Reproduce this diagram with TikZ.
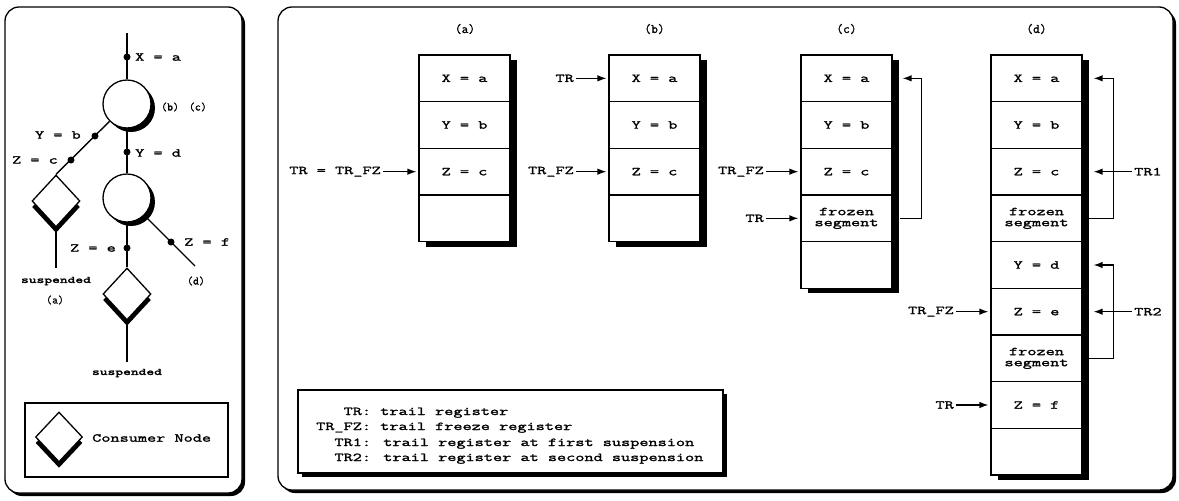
\documentclass[tikz,border=0pt]{standalone}
\usepackage{fontspec}
\newfontfamily\mono[FakeStretch=1.48,FakeBold=1.8]{Latin Modern Mono}
\newfontfamily\monon[FakeBold=1.2]{Latin Modern Mono}
\usetikzlibrary{arrows.meta,shapes.geometric,shadows}
\begin{document}
\begin{tikzpicture}[x=1pt,y=-1pt,
  every node/.style={font=\mono\fontsize{12}{13}\selectfont},
  small/.style={font=\monon\fontsize{11.5}{12}\selectfont, inner sep=1pt},
  head/.style={font=\monon\fontsize{13}{14}\selectfont, inner sep=1pt},
  med/.style={font=\mono\fontsize{10}{11}\selectfont, inner sep=1pt},
  tlbl/.style={inner sep=1pt},
  panel/.style={draw, line width=1.3pt, rounded corners=14pt,
    drop shadow={shadow xshift=3pt, shadow yshift=-3pt, fill=black, opacity=1}},
  cell/.style={draw, line width=1.1pt, fill=white, minimum width=91pt,
    minimum height=46.67pt, inner sep=0pt, align=center},
  stackshadow/.style={fill=black},
  lbl/.style={inner sep=2pt},
  arr/.style={-{Latex[length=9pt,width=6.5pt]}, line width=1.3pt, shorten >=2pt},
  farr/.style={-{Latex[length=9pt,width=6.5pt]}, line width=1.3pt},
  tree/.style={line width=1.4pt},
  dot/.style={circle, fill=black, inner sep=0pt, minimum size=7pt},
  bubble/.style={circle, draw, line width=1.3pt, fill=white, minimum size=48pt, inner sep=0pt,
    drop shadow={shadow xshift=4pt, shadow yshift=-4pt, fill=black, opacity=1}},
  consumer/.style={diamond, draw, line width=1.3pt, fill=white, minimum width=48pt,
    minimum height=52pt, inner sep=0pt,
    drop shadow={shadow xshift=0pt, shadow yshift=-6pt, fill=black, opacity=1}},
  legbox/.style={draw, line width=1.4pt, fill=white, inner sep=0pt}
]
\useasboundingbox (0,0) rectangle (1179,501);
\fill[white] (0,0) rectangle (1179,501);

% ---------- panels ----------
\node[panel, fill=white, minimum width=237pt, minimum height=486pt, inner sep=0pt] (lp) at (123.5,250) {};
\node[panel, fill=white, minimum width=895pt, minimum height=483pt, inner sep=0pt] (rp) at (725.5,248.5) {};

% ---------- tree ----------
\coordinate (top) at (127,33);
\coordinate (s1) at (56,268);
\coordinate (s2) at (127,362);
\coordinate (dend) at (195,266);
\node[bubble] (c1) at (127,104) {};
\node[bubble] (c2) at (127,198) {};
\node[consumer] (d1) at (56,201) {};
\node[consumer] (d2) at (127,294) {};
\draw[tree] (top) -- (c1);
\draw[tree] (c1) -- (c2);
\draw[tree] (c2) -- (d2);
\draw[tree] (d2) -- (s2);
\draw[tree] (c1) -- (d1.north);
\draw[tree] (d1) -- (s1);
\draw[tree] (c2) -- (dend);
\node[dot] (xa) at (127,57) {};
\node[dot] (yd) at (127,152) {};
\node[dot] (ze) at (127,248) {};
\node[dot] (yb) at (95,136) {};
\node[dot] (zc) at (71,160) {};
\node[dot] (zf) at (171,242) {};

\node[tlbl, anchor=west] (lxa) at (134,57) {X = a};
\node[small, anchor=west] (lbc) at (160,107) {(b)\hspace{10pt}(c)};
\node[tlbl, anchor=east] (lyb) at (82,135) {Y = b};
\node[tlbl, anchor=east] (lzc) at (59,160) {Z = c};
\node[tlbl, anchor=west] (lyd) at (134,153) {Y = d};
\node[tlbl, anchor=east] (lze) at (117,248) {Z = e};
\node[tlbl, anchor=west] (lzf) at (183,242) {Z = f};
\node[med] (sus1) at (56,281) {suspended};
\node[small] (la) at (55,300) {(a)};
\node[small] (ld) at (196,281) {(d)};
\node[med] (sus2) at (127,373) {suspended};

% legend (left)
\node[legbox, minimum width=203pt, minimum height=74pt] (leg1) at (126.5,440) {};
\node[consumer, minimum width=47pt, minimum height=50pt] (legd) at (59,437) {};
\node[anchor=west, inner sep=0pt] (legt) at (92,438) {Consumer Node};

% ---------- stacks ----------
\fill[stackshadow] (426,60) rectangle (517,246.67);
\fill[stackshadow] (616,60) rectangle (707,246.67);
\fill[stackshadow] (808,60) rectangle (899,293.33);
\fill[stackshadow] (998,60) rectangle (1089,480);

\node (ha) at (465,29) [head] {(a)};
\node (hb) at (654.5,29) [head] {(b)};
\node (hc) at (846.5,29) [head] {(c)};
\node (hd) at (1036.5,29) [head] {(d)};

% stack a
\node[cell] (a1) at (464.5,78.33) {X = a};
\node[cell] (a2) at (464.5,125) {Y = b};
\node[cell] (a3) at (464.5,171.67) {Z = c};
\node[cell] (a4) at (464.5,218.33) {};
% stack b
\node[cell] (b1) at (654.5,78.33) {X = a};
\node[cell] (b2) at (654.5,125) {Y = b};
\node[cell] (b3) at (654.5,171.67) {Z = c};
\node[cell] (b4) at (654.5,218.33) {};
% stack c
\node[cell] (c1s) at (846.5,78.33) {X = a};
\node[cell] (c2s) at (846.5,125) {Y = b};
\node[cell] (c3s) at (846.5,171.67) {Z = c};
\node[cell] (c4s) at (846.5,218.33) {frozen\\[-2pt]segment};
\node[cell] (c5s) at (846.5,265) {};
% stack d
\node[cell] (d1s) at (1036.5,78.33) {X = a};
\node[cell] (d2s) at (1036.5,125) {Y = b};
\node[cell] (d3s) at (1036.5,171.67) {Z = c};
\node[cell] (d4s) at (1036.5,218.33) {frozen\\[-2pt]segment};
\node[cell] (d5s) at (1036.5,265) {Y = d};
\node[cell] (d6s) at (1036.5,311.67) {Z = e};
\node[cell] (d7s) at (1036.5,358.33) {frozen\\[-2pt]segment};
\node[cell] (d8s) at (1036.5,405) {Z = f};
\node[cell] (d9s) at (1036.5,451.67) {};

% ---------- register arrows ----------
\node[lbl, anchor=east] (pa) at (383,171.67) {TR = TR\_FZ};
\draw[arr] (pa) -- (a3.west);
\node[lbl, anchor=east] (pb1) at (576,78.33) {TR};
\draw[arr] (pb1) -- (b1.west);
\node[lbl, anchor=east] (pb2) at (576,171.67) {TR\_FZ};
\draw[arr] (pb2) -- (b3.west);
\node[lbl, anchor=east] (pc1) at (766,171.67) {TR\_FZ};
\draw[arr] (pc1) -- (c3s.west);
\node[lbl, anchor=east] (pc2) at (766,218.33) {TR};
\draw[arr] (pc2) -- (c4s.west);
\node[lbl, anchor=east] (pd1) at (956,311.67) {TR\_FZ};
\draw[arr] (pd1) -- (d6s.west);
\node[lbl, anchor=east] (pd2) at (956,405) {TR};
\draw[arr] (pd2) -- (d8s.west);
\node[lbl, anchor=west] (tr1) at (1132,171.67) {TR1};
\draw[farr] (tr1) -- ([xshift=11pt]d3s.east);
\node[lbl, anchor=west] (tr2) at (1132,311.67) {TR2};
\draw[farr] (tr2) -- ([xshift=11pt]d6s.east);

% feedback arrows
\draw[farr] ([xshift=7pt]c4s.east) -- ++(22,0) |- ([xshift=10pt]c1s.east);
\draw[farr] ([xshift=6pt]d4s.east) -- ++(25,0) |- ([xshift=11pt]d1s.east);
\draw[farr] ([xshift=6pt]d7s.east) -- ++(25,0) |- ([xshift=11pt]d5s.east);

% ---------- legend (right) ----------
\node[legbox, minimum width=425pt, minimum height=83pt,
  drop shadow={shadow xshift=4pt, shadow yshift=-4pt, fill=black, opacity=1}] (leg2) at (510.5,431.5) {};
\node[anchor=base west, inner sep=0pt] (l1) at (316,415) {\phantom{TR\_}TR: trail register};
\node[anchor=base west, inner sep=0pt] (l2) at (316,430) {TR\_FZ: trail freeze register};
\node[anchor=base west, inner sep=0pt] (l3) at (316,446) {\phantom{TR}TR1: trail register at first suspension};
\node[anchor=base west, inner sep=0pt] (l4) at (316,461) {\phantom{TR}TR2: trail register at second suspension};
\end{tikzpicture}
\end{document}
